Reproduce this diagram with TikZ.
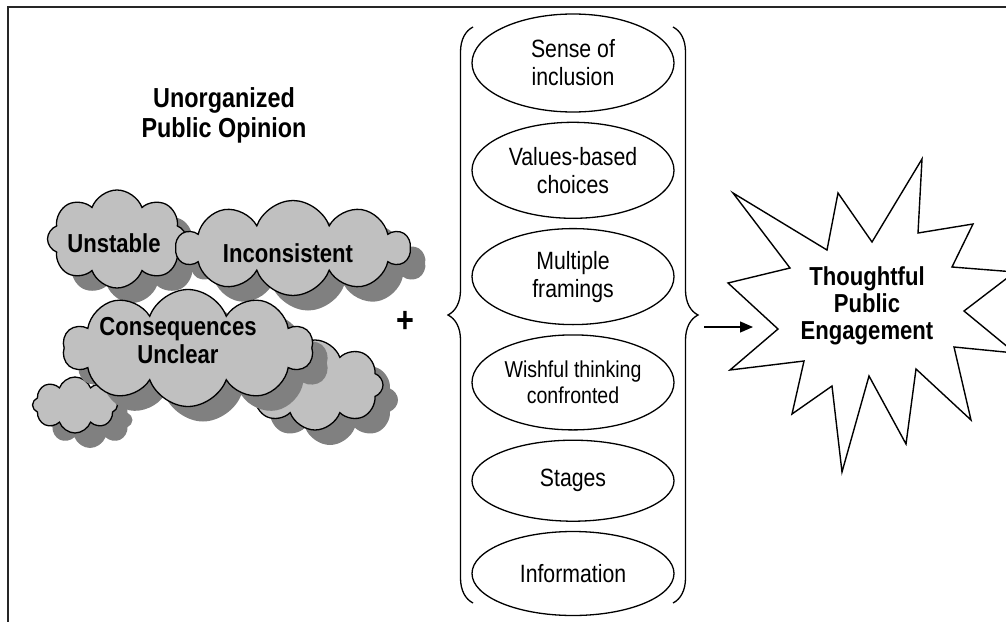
\documentclass[tikz,border=0pt]{standalone}
\usepackage{fontspec}
\setmainfont[FakeStretch=0.85]{Liberation Sans}
\usetikzlibrary{
    arrows.meta,              % For the arrow head
    positioning,              % For stacking the ellipses (below=of)
    shapes.geometric,         % For the ellipses
    shapes.symbols,           % For the cloud shapes
    decorations.pathreplacing % For the curly braces
}
\definecolor{puffgray}{HTML}{C0C0C0}
\definecolor{shadegray}{HTML}{808080}
\tikzset{
    % Style for the edges of the page frame
    pageedge/.style={line width=2pt, draw=black!85},
    % Style for the cloud bodies
    puff/.style={
        cloud, cloud puffs=#1, cloud puff arc=140, cloud ignores aspect,
        draw=black, line width=1.3pt, fill=puffgray, inner sep=0pt
    },
    % Style for the cloud shadows
    puffshadow/.style={
        cloud, cloud puffs=#1, cloud puff arc=140, cloud ignores aspect,
        fill=shadegray, draw=none, inner sep=0pt
    },
    % Bold words on the clouds
    cloudtext/.style={font=\bfseries\fontsize{26}{28}\selectfont, align=center, inner sep=0pt},
    % Title over the clouds
    heading/.style={font=\bfseries\fontsize{27.5}{30}\selectfont, align=center},
    % Style for the ellipses inside the braces
    facet/.style={
        draw, ellipse, line width=1.3pt,
        minimum width=202pt, inner sep=0pt,
        align=center, font=\fontsize{25}{28}\selectfont
    },
    % Curly braces
    curly/.style={decorate, decoration={brace, amplitude=25pt}, line width=1.3pt},
    % Star outline and its text
    burst/.style={draw, line width=1.4pt, line join=miter},
    bursttext/.style={font=\bfseries\fontsize{26}{27}\selectfont, align=center},
    % Style for the connecting arrow
    arrow/.style={-{Triangle[length=13pt, width=11pt]}, line width=1.3pt}
}

\begin{document}
\begin{tikzpicture}[x=1pt, y=-1pt, node distance=9pt]
    \useasboundingbox (0,0) rectangle (1006,621);
    \clip (0,0) rectangle (1006,621);

    % --- Frame (only its top and left edges fall inside) ---
    \draw[pageedge] (1030,7) -- (8,7) -- (8,640);

    % --- Title ---
    \node (title) [heading] at (224,115) {Unorganized\\Public Opinion};

    % --- Clouds, back to front, each over its shadow ---
    \node (back-sh)  [puffshadow=8, minimum width=136pt, minimum height=90pt] at (330,400) {};
    \node (back)     [puff=8, minimum width=136pt, minimum height=90pt] at (315,385) {};
    \node (small-sh) [puffshadow=8, minimum width=85pt, minimum height=56pt] at (90,420) {};
    \node (small)    [puff=8, minimum width=85pt, minimum height=56pt] at (75,405) {};
    \node (unstable-sh) [puffshadow=8, minimum width=139pt, minimum height=98pt] at (132,254) {};
    \node (unstable)    [puff=8, minimum width=139pt, minimum height=98pt] at (117,239) {};
    \node (inconsistent-sh) [puffshadow=10, minimum width=233pt, minimum height=95pt] at (308,263) {};
    \node (inconsistent)    [puff=10, minimum width=233pt, minimum height=95pt] at (293,248) {};
    \node (consequences-sh) [puffshadow=10, minimum width=250pt, minimum height=117pt] at (203,363) {};
    \node (consequences)    [puff=10, minimum width=250pt, minimum height=117pt] at (188,348) {};

    % --- Words on the clouds ---
    \node (unstable-txt)     [cloudtext] at (114,243) {Unstable};
    \node (inconsistent-txt) [cloudtext] at (288,253) {Inconsistent};
    \node (consequences-txt) [cloudtext] at (178,341) {Consequences\\Unclear};

    \node (plus) [font=\bfseries\fontsize{36}{36}\selectfont] at (405,322) {+};

    % --- Ellipses stacked between the braces ---
    \node (sense)       [facet, minimum height=98pt] at (573,63) {Sense of\\inclusion};
    \node (values)      [facet, minimum height=96pt, below=of sense] {Values-based\\choices};
    \node (framings)    [facet, minimum height=96pt, below=of values] {Multiple\\framings};
    \node (wishful)     [facet, minimum height=95pt, below=of framings,
                         font=\fontsize{23}{26}\selectfont] {Wishful thinking\\confronted};
    \node (stages)      [facet, minimum height=81pt, below=of wishful] {Stages};
    \node (information) [facet, minimum height=84pt, below=of stages] {Information};

    % --- Braces ---
    \coordinate (lb-top) at (473,27);
    \coordinate (lb-bot) at (473,603);
    \coordinate (rb-top) at (673,27);
    \coordinate (rb-bot) at (673,603);
    \draw[curly] (lb-bot) -- (lb-top);
    \draw[curly] (rb-top) -- (rb-bot);

    % --- Star ---
    \draw[burst] (733,193) -- (827,250) -- (838,193) -- (872,242) -- (922,159)
        -- (918,233) -- (973,224) -- (952,267) -- (1015,272) -- (964,311)
        -- (1015,353) -- (954,347) -- (971,420) -- (916,369) -- (906,444)
        -- (869,376) -- (842,472) -- (832,386) -- (792,414) -- (804,361)
        -- (730,370) -- (778,329) -- (728,283) -- (790,268) -- cycle;
    \node (engage) [bursttext] at (867,306) {Thoughtful\\Public\\Engagement};

    % --- Arrow into the star ---
    \coordinate (rb-out)  at (704,327);
    \coordinate (star-in) at (753,327);
    \draw[arrow] (rb-out) -- (star-in);
\end{tikzpicture}
\end{document}
